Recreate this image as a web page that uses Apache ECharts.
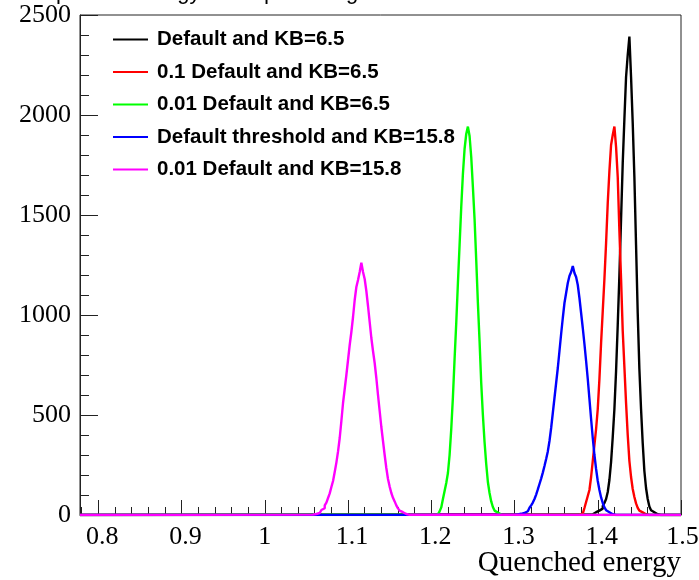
<!DOCTYPE html>
<html>
<head>
<meta charset="utf-8">
<script src="https://cdn.jsdelivr.net/npm/echarts@6/dist/echarts.min.js"></script>
<style>
  html, body { margin: 0; padding: 0; background: #fff; }
  #chart { width: 699px; height: 580px; }
</style>
</head>
<body>
<div id="chart"></div>
<script>
// Histogram range and bin width (quenched energy)
const xMin = 0.778;
const xMax = 1.5;
const binWidth = 0.002;

// Axis tick labels
const xTickLabels = [0.8, 0.9, 1.0, 1.1, 1.2, 1.3, 1.4, 1.5];
const yTickLabels = [0, 500, 1000, 1500, 2000, 2500];

// Legend entries
const seriesNames = [
  'Default and KB=6.5',
  '0.1 Default and KB=6.5',
  '0.01 Default and KB=6.5',
  'Default threshold and KB=15.8',
  '0.01 Default and KB=15.8'
];

// Low edge of the first filled bin for each histogram
const blackStart = 1.394;
const redStart = 1.378;
const greenStart = 1.208;
const blueStart = 1.300;
const magentaStart = 1.058;

// Bin contents (entries per 0.002 bin)
const blackCounts = [4, 8, 14, 18, 22, 28, 32, 45, 60, 80, 115, 175, 265, 390, 530, 720, 950, 1200,
  1480, 1760, 1980, 2190, 2300, 2392, 2190, 1960, 1690, 1350, 1010, 730, 530, 360, 220, 135, 80,
  42, 24, 14, 8, 4, 2];
const redCounts = [2, 4, 7, 14, 35, 65, 95, 125, 190, 270, 350, 430, 530, 680, 860, 1020, 1180, 1360,
  1560, 1720, 1850, 1900, 1942, 1840, 1690, 1420, 1180, 920, 740, 560, 400, 270, 190, 130, 90, 58,
  36, 22, 13, 8, 4, 2];
const greenCounts = [3, 8, 18, 38, 80, 120, 160, 210, 300, 430, 590, 780, 960, 1160, 1350, 1540, 1705,
  1830, 1905, 1942, 1895, 1790, 1640, 1480, 1275, 1060, 870, 660, 500, 365, 255, 165, 110, 68, 40,
  22, 12, 6, 2];
const blueCounts = [1, 2, 3, 4, 6, 8, 10, 14, 19, 26, 36, 48, 62, 80, 102, 128, 155, 182, 212, 245, 280,
  318, 370, 435, 510, 585, 660, 735, 820, 905, 985, 1060, 1110, 1160, 1195, 1215, 1245, 1210, 1190,
  1150, 1085, 1010, 935, 855, 770, 680, 580, 480, 385, 300, 230, 170, 125, 88, 60, 38, 24, 14, 7, 4, 2];
const magentaCounts = [2, 3, 5, 8, 10, 16, 25, 34, 48, 62, 85, 108, 140, 170, 215, 262, 318, 385, 470,
  560, 630, 700, 775, 850, 915, 990, 1075, 1140, 1175, 1215, 1262, 1215, 1180, 1120, 1045, 965, 885,
  820, 760, 685, 600, 520, 440, 370, 300, 235, 180, 142, 110, 86, 68, 48, 33, 22, 14, 8, 5, 3, 1];

// Turn bin contents into step points spanning the whole axis
function histPoints(start, counts) {
  const pts = [[xMin, 0]];
  counts.forEach((c, i) => pts.push([+(start + i * binWidth).toFixed(4), c]));
  pts.push([+(start + counts.length * binWidth).toFixed(4), 0]);
  pts.push([xMax, 0]);
  return pts;
}

const xMinorTicks = [];
for (let k = 39; k <= 75; k++) xMinorTicks.push(+(k * 0.02).toFixed(2));

const histos = [
  { name: seriesNames[0], color: '#000000', data: histPoints(blackStart, blackCounts) },
  { name: seriesNames[1], color: '#ff0000', data: histPoints(redStart, redCounts) },
  { name: seriesNames[2], color: '#00ff00', data: histPoints(greenStart, greenCounts) },
  { name: seriesNames[3], color: '#0000ff', data: histPoints(blueStart, blueCounts) },
  { name: seriesNames[4], color: '#ff00ff', data: histPoints(magentaStart, magentaCounts) }
];

const serif = 'Liberation Serif, Times New Roman, serif';
const sans = 'Liberation Sans, Arial, Helvetica, sans-serif';
const axisColor = '#222';

const chart = echarts.init(document.getElementById('chart'), null, { renderer: 'canvas' });
chart.setOption({
  animation: false,
  backgroundColor: '#fff',
  grid: {
    left: 80, right: 18, top: 15, bottom: 65,
    containLabel: false, outerBoundsMode: 'none',
    show: true, borderColor: axisColor, borderWidth: 1, backgroundColor: 'transparent'
  },
  graphic: [
    {
      type: 'text', left: 28, top: -18, silent: true,
      style: { text: 'Deposited energy after quenching', font: '22px ' + sans, fill: '#000' }
    },
    {
      type: 'text', right: 18, top: 549, silent: true,
      style: { text: 'Quenched energy', font: '29px ' + serif, fill: '#000', textAlign: 'right' }
    }
  ],
  legend: {
    left: 108, top: 24, orient: 'vertical',
    icon: 'rect', itemWidth: 35, itemHeight: 2, itemGap: 11.5,
    selectedMode: false,
    textStyle: { fontFamily: sans, fontWeight: 'bold', fontSize: 20.5, color: '#000', lineHeight: 20, padding: [0, 0, 0, 4] },
    data: seriesNames
  },
  xAxis: [
    {
      type: 'value', min: xMin, max: xMax,
      axisLine: { show: true, lineStyle: { color: axisColor, width: 1 } },
      axisTick: { show: true, inside: true, length: 15, customValues: xTickLabels, lineStyle: { color: axisColor } },
      axisLabel: {
        show: true, customValues: xTickLabels, margin: 9,
        fontFamily: serif, fontSize: 26, color: '#000',
        formatter: v => {
          const s = String(+v.toFixed(1));
          if (s === '1.5') return '{e|' + s + '}';
          return s.length > 1 ? '{w|' + s + '}' : s;
        },
        rich: {
          w: { fontFamily: serif, fontSize: 26, color: '#000', padding: [0, 0, 0, 8] },
          e: { fontFamily: serif, fontSize: 26, color: '#000', padding: [0, 0, 0, 3] }
        }
      },
      splitLine: { show: false }
    },
    {
      type: 'value', min: xMin, max: xMax, position: 'bottom',
      axisLine: { show: false },
      axisTick: { show: true, inside: true, length: 8, customValues: xMinorTicks, lineStyle: { color: axisColor } },
      axisLabel: { show: false },
      splitLine: { show: false }
    }
  ],
  yAxis: {
    type: 'value', min: 0, max: 2500, interval: 500,
    axisLine: { show: true, lineStyle: { color: axisColor, width: 1 } },
    axisTick: { show: true, inside: true, length: 18, lineStyle: { color: axisColor } },
    minorTick: { show: true, splitNumber: 5, length: 9, lineStyle: { color: axisColor } },
    axisLabel: {
      margin: 9, fontFamily: serif, fontSize: 26, color: '#000',
      formatter: v => (yTickLabels.includes(v) ? String(v) : '')
    },
    splitLine: { show: false }
  },
  series: histos.map(h => ({
    type: 'line', name: h.name, data: h.data,
    xAxisIndex: 0, step: 'start', symbol: 'none',
    color: h.color,
    lineStyle: { color: h.color, width: 2.4 },
    clip: true
  }))
});
</script>
</body>
</html>
